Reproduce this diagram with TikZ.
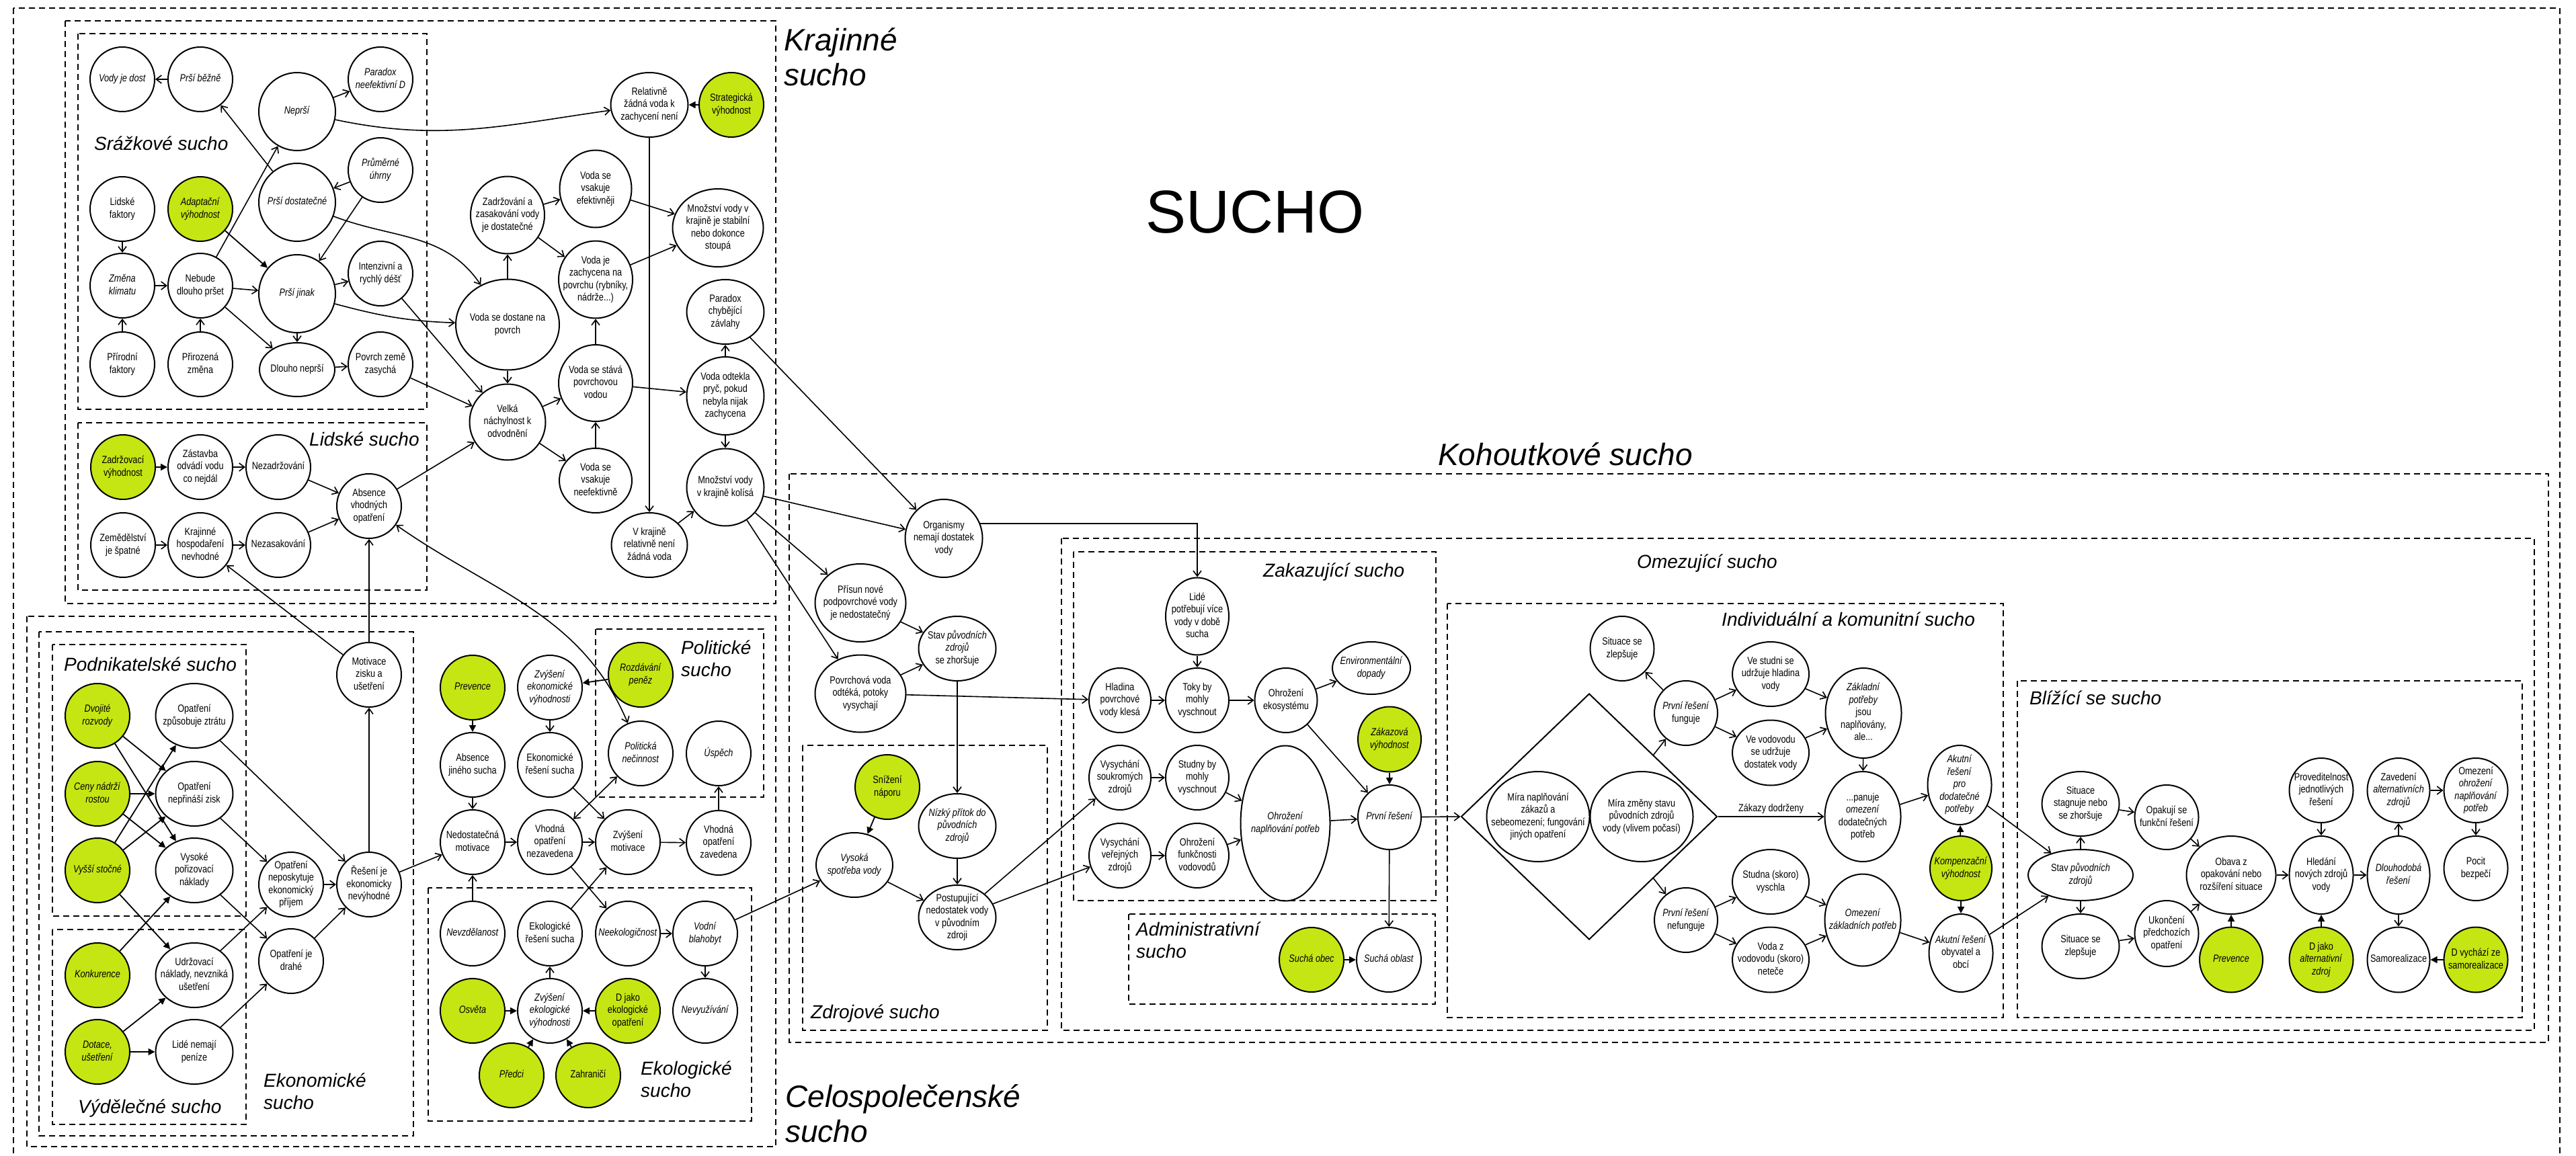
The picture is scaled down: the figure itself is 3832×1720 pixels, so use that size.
\documentclass[tikz,border=0pt]{standalone}
\usepackage{fontspec}
\setmainfont{Liberation Sans}
\newfontfamily\condf{Liberation Sans}[FakeStretch=0.82]
\usetikzlibrary{shapes.geometric,arrows.meta,calc}
\definecolor{lime}{RGB}{197,230,18}
\newcommand\nf{\condf\fontsize{15.5}{18.5}\selectfont}
\newcommand\itx[1]{\textit{#1}}
\newcommand\nt[1]{\smash{\makebox[0pt]{\raisebox{-0.25em}{\begin{tabular}{@{}c@{}}#1\end{tabular}}}}}
\begin{document}
\begin{tikzpicture}[x=1pt,y=-1pt,
  wn/.style={draw, ellipse, line width=2pt, inner sep=0pt, minimum width=96, minimum height=96, font=\nf},
  gn/.style={wn, fill=lime},
  sz/.style 2 args={minimum width=#1, minimum height=#2},
  frm/.style={draw, line width=1.8pt, dash pattern=on 9pt off 6pt},
  arr/.style={line width=1.6pt, -{Straight Barb[length=8pt,width=12pt]}},
  barr/.style={line width=1.6pt, {Straight Barb[length=8pt,width=12pt]}-{Straight Barb[length=8pt,width=12pt]}},
  farr/.style={line width=1.8pt, -{Triangle[length=10pt,width=10pt]}},
  ttl/.style={anchor=base west, inner sep=0pt, font=\fontsize{28}{33}\selectfont\itshape},
  bttl/.style={anchor=base west, inner sep=0pt, font=\fontsize{46}{52}\selectfont\itshape}]
\useasboundingbox (0,0) rectangle (3832,1720);
\fill[white] (0,0) rectangle (3832,1720);

% ---------- frames ----------
\draw[frm] (20,12) rectangle (3808,1745);
\draw[frm] (97,31) rectangle (1154,898);
\draw[frm] (116,50) rectangle (635,609);
\draw[frm] (116,629) rectangle (635,878);
\draw[frm] (40,917) rectangle (1154,1706);
\draw[frm] (58,940) rectangle (615,1690);
\draw[frm] (78,959) rectangle (366,1363);
\draw[frm] (78,1383) rectangle (366,1673);
\draw[frm] (886,936) rectangle (1136,1186);
\draw[frm] (637,1321) rectangle (1118,1668);
\draw[frm] (1174,705) rectangle (3791,1551);
\draw[frm] (1194,1109) rectangle (1558,1533);
\draw[frm] (1579,801) rectangle (3770,1533);
\draw[frm] (1597,821) rectangle (2136,1340);
\draw[frm] (1679,1360) rectangle (2135,1494);
\draw[frm] (2153,898) rectangle (2980,1514);
\draw[frm] (3001,1013) rectangle (3752,1514);

% ---------- titles ----------
\node[anchor=base, inner sep=0pt, font=\fontsize{90}{100}\selectfont] (tsucho) at (1867,346) {SUCHO};
\node[bttl] (tkraj) at (1166,76) {\begin{tabular}[t]{@{}l@{}}Krajinné\\sucho\end{tabular}};
\node[bttl] (tcelo) at (1168,1647) {\begin{tabular}[t]{@{}l@{}}Celospolečenské\\sucho\end{tabular}};
\node[bttl] (tkoh) at (2139,692) {Kohoutkové sucho};
\node[ttl] (tsraz) at (140,224) {Srážkové sucho};
\node[ttl] (tlid) at (460,663) {Lidské sucho};
\node[ttl] (tpod) at (95,998) {Podnikatelské sucho};
\node[ttl] (tvyd) at (116,1656) {Výdělečné sucho};
\node[ttl] (tekon) at (392,1617) {\begin{tabular}[t]{@{}l@{}}Ekonomické\\sucho\end{tabular}};
\node[ttl] (tpol) at (1013,973) {\begin{tabular}[t]{@{}l@{}}Politické\\sucho\end{tabular}};
\node[ttl] (tekol) at (953,1599) {\begin{tabular}[t]{@{}l@{}}Ekologické\\sucho\end{tabular}};
\node[ttl] (tzdr) at (1206,1515) {Zdrojové sucho};
\node[ttl] (tzak) at (1879,858) {Zakazující sucho};
\node[ttl] (tadm) at (1690,1392) {\begin{tabular}[t]{@{}l@{}}Administrativní\\sucho\end{tabular}};
\node[ttl] (tomez) at (2435,845) {Omezující sucho};
\node[ttl] (tind) at (2561,931) {Individuální a komunitní sucho};
\node[ttl] (tbliz) at (3019,1048) {Blížící se sucho};

% ---------- Srážkové sucho ----------
\node[wn] (vjd) at (182,118) {\nt{\itx{Vody je dost}}};
\node[wn] (pb) at (298,118) {\nt{\itx{Prší běžně}}};
\node[wn] (pnd) at (566,118) {\nt{\itx{Paradox}\\\itx{neefektivní D}}};
\node[wn,sz={114}{116}] (nep) at (442,166) {\nt{\itx{Neprší}}};
\node[wn] (pu) at (566,253) {\nt{\itx{Průměrné}\\\itx{úhrny}}};
\node[wn,sz={114}{116}] (pd) at (442,301) {\nt{\itx{Prší dostatečné}}};
\node[wn] (lf) at (182,311) {\nt{Lidské\\faktory}};
\node[gn] (av) at (298,311) {\nt{\itx{Adaptační}\\\itx{výhodnost}}};
\node[wn] (zk) at (182,425) {\nt{\itx{Změna}\\\itx{klimatu}}};
\node[wn] (ndp) at (298,425) {\nt{Nebude\\dlouho pršet}};
\node[wn,sz={114}{116}] (pj) at (442,437) {\nt{\itx{Prší jinak}}};
\node[wn] (ird) at (566,407) {\nt{Intenzivní a\\rychlý déšť}};
\node[wn] (pf) at (182,542) {\nt{Přírodní\\faktory}};
\node[wn] (pz) at (298,542) {\nt{Přirozená\\změna}};
\node[wn,sz={112}{80}] (dn) at (442,550) {\nt{Dlouho neprší}};
\node[wn] (pzz) at (566,542) {\nt{Povrch země\\zasychá}};

% ---------- Krajinné (middle) ----------
\node[wn,sz={110}{115}] (zaz) at (755,320) {\nt{Zadržování a\\zasakování vody\\je dostatečné}};
\node[wn,sz={107}{115}] (vve) at (886,281) {\nt{Voda se\\vsakuje\\efektivněji}};
\node[wn,sz={110}{115}] (vjz) at (886,416) {\nt{Voda je\\zachycena na\\povrchu (rybníky,\\nádrže...)}};
\node[wn,sz={154}{135}] (vdp) at (755,483) {\nt{Voda se dostane na\\povrch}};
\node[wn,sz={110}{114}] (vsp) at (886,570) {\nt{Voda se stává\\povrchovou\\vodou}};
\node[wn,sz={113}{113}] (vn) at (755,628) {\nt{Velká\\náchylnost k\\odvodnění}};
\node[wn,sz={108}{96}] (vvn) at (886,715) {\nt{Voda se\\vsakuje\\neefektivně}};
\node[wn,sz={115}{96}] (rzv) at (966,156) {\nt{Relativně\\žádná voda k\\zachycení není}};
\node[gn] (sv) at (1088,156) {\nt{Strategická\\výhodnost}};
\node[wn,sz={135}{116}] (mvs) at (1068,339) {\nt{Množství vody v\\krajině je stabilní\\nebo dokonce\\stoupá}};
\node[wn,sz={115}{96}] (pcz) at (1079,464) {\nt{Paradox\\chybějící\\závlahy}};
\node[wn,sz={115}{116}] (vop) at (1079,589) {\nt{Voda odtekla\\pryč, pokud\\nebyla nijak\\zachycena}};
\node[wn,sz={115}{115}] (mvk) at (1079,725) {\nt{Množství vody\\v krajině kolísá}};
\node[wn,sz={113}{96}] (vkr) at (966,811) {\nt{V krajině\\relativně není\\žádná voda}};

% ---------- Lidské sucho ----------
\node[gn] (zv) at (183,695) {\nt{Zadržovací\\výhodnost}};
\node[wn] (zas) at (298,695) {\nt{Zástavba\\odvádí vodu\\co nejdál}};
\node[wn] (nezd) at (414,695) {\nt{Nezadržování}};
\node[wn] (abs) at (549,753) {\nt{Absence\\vhodných\\opatření}};
\node[wn] (zem) at (183,811) {\nt{Zemědělství\\je špatné}};
\node[wn] (khn) at (298,811) {\nt{Krajinné\\hospodaření\\nevhodné}};
\node[wn] (nezs) at (414,811) {\nt{Nezasakování}};

% ---------- Ekonomické sucho ----------
\node[gn] (dr) at (145,1065) {\nt{\itx{Dvojité}\\\itx{rozvody}}};
\node[wn,sz={115}{96}] (ozz) at (289,1065) {\nt{Opatření\\způsobuje ztrátu}};
\node[gn] (cnr) at (145,1181) {\nt{\itx{Ceny nádrží}\\\itx{rostou}}};
\node[wn,sz={115}{96}] (onz) at (289,1181) {\nt{Opatření\\nepřináší zisk}};
\node[gn] (vs) at (145,1295) {\nt{\itx{Vyšší stočné}}};
\node[wn,sz={115}{96}] (vpn) at (289,1295) {\nt{Vysoké\\pořizovací\\náklady}};
\node[gn] (kon) at (145,1451) {\nt{\itx{Konkurence}}};
\node[wn,sz={115}{96}] (udr) at (289,1451) {\nt{Udržovací\\náklady, nevzniká\\ušetření}};
\node[gn] (dot) at (145,1565) {\nt{\itx{Dotace,}\\\itx{ušetření}}};
\node[wn,sz={115}{96}] (lnp) at (289,1565) {\nt{Lidé nemají\\peníze}};
\node[wn] (one) at (433,1316) {\nt{Opatření\\neposkytuje\\ekonomický\\příjem}};
\node[wn] (ojd) at (433,1430) {\nt{Opatření je\\drahé}};
\node[wn] (ren) at (549,1316) {\nt{Řešení je\\ekonomicky\\nevýhodné}};
\node[wn] (mot) at (549,1004) {\nt{Motivace\\zisku a\\ušetření}};

% ---------- Politické / Ekologické ----------
\node[gn] (prev1) at (703,1023) {\nt{\itx{Prevence}}};
\node[wn] (zev) at (818,1023) {\nt{\itx{Zvýšení}\\\itx{ekonomické}\\\itx{výhodnosti}}};
\node[gn] (rp) at (953,1004) {\nt{\itx{Rozdávání}\\\itx{peněz}}};
\node[wn] (ajs) at (703,1138) {\nt{Absence\\jiného sucha}};
\node[wn] (ers) at (818,1138) {\nt{Ekonomické\\řešení sucha}};
\node[wn] (pn) at (953,1121) {\nt{\itx{Politická}\\\itx{nečinnost}}};
\node[wn] (usp) at (1069,1121) {\nt{\itx{Úspěch}}};
\node[wn] (nm) at (703,1253) {\nt{Nedostatečná\\motivace}};
\node[wn] (von) at (818,1253) {\nt{Vhodná\\opatření\\nezavedena}};
\node[wn] (zm) at (934,1253) {\nt{Zvýšení\\motivace}};
\node[wn] (voz) at (1069,1254) {\nt{Vhodná\\opatření\\zavedena}};
\node[wn] (nevz) at (703,1389) {\nt{\itx{Nevzdělanost}}};
\node[wn] (eko) at (818,1389) {\nt{Ekologické\\řešení sucha}};
\node[wn] (neek) at (934,1389) {\nt{\itx{Neekologičnost}}};
\node[wn] (vb) at (1049,1389) {\nt{\itx{Vodní}\\\itx{blahobyt}}};
\node[gn] (osv) at (703,1504) {\nt{\itx{Osvěta}}};
\node[wn] (zekv) at (818,1504) {\nt{\itx{Zvýšení}\\\itx{ekologické}\\\itx{výhodnosti}}};
\node[gn] (djeo) at (934,1504) {\nt{D jako\\ekologické\\opatření}};
\node[wn] (nevy) at (1049,1504) {\nt{\itx{Nevyužívání}}};
\node[gn] (pred) at (761,1600) {\nt{\itx{Předci}}};
\node[gn] (zah) at (875,1600) {\nt{Zahraničí}};

% ---------- Kohoutkové / Zdrojové ----------
\node[wn,sz={115}{116}] (org) at (1404,801) {\nt{Organismy\\nemají dostatek\\vody}};
\node[wn,sz={135}{116}] (pnp) at (1280,897) {\nt{Přísun nové\\podpovrchové vody\\je nedostatečný}};
\node[wn,sz={115}{96}] (spz) at (1424,965) {\nt{Stav \itx{původních}\\\itx{zdrojů}\\se zhoršuje}};
\node[wn,sz={135}{115}] (pvo) at (1280,1032) {\nt{Povrchová voda\\odtéká, potoky\\vysychají}};
\node[gn] (sn) at (1320,1171) {\nt{Snížení\\náporu}};
\node[wn,sz={114}{96}] (vsv) at (1271,1287) {\nt{\itx{Vysoká}\\\itx{spotřeba vody}}};
\node[wn,sz={115}{96}] (npz) at (1424,1229) {\nt{\itx{Nízký přítok do}\\\itx{původních}\\\itx{zdrojů}}};
\node[wn,sz={115}{96}] (pnv) at (1424,1365) {\nt{Postupující\\nedostatek vody\\v původním\\zdroji}};

% ---------- Zakazující / Administrativní ----------
\node[wn,sz={94}{115}] (lpv) at (1781,917) {\nt{Lidé\\potřebují více\\vody v době\\sucha}};
\node[wn,sz={92}{96}] (hpv) at (1666,1042) {\nt{Hladina\\povrchové\\vody klesá}};
\node[wn,sz={94}{96}] (tok) at (1781,1042) {\nt{Toky by\\mohly\\vyschnout}};
\node[wn,sz={93}{96}] (oek) at (1913,1042) {\nt{Ohrožení\\ekosystému}};
\node[wn,sz={116}{78}] (env) at (2040,994) {\nt{\itx{Environmentální}\\\itx{dopady}}};
\node[gn,sz={94}{97}] (zakv) at (2067,1100) {\nt{\itx{Zákazová}\\\itx{výhodnost}}};
\node[wn,sz={92}{96}] (vsz) at (1666,1157) {\nt{Vysychání\\soukromých\\zdrojů}};
\node[wn,sz={94}{96}] (stu) at (1781,1157) {\nt{Studny by\\mohly\\vyschnout}};
\node[wn,sz={133}{231}] (onp) at (1912,1225) {\nt{\itx{Ohrožení}\\\itx{naplňování potřeb}}};
\node[wn,sz={92}{96}] (vvz) at (1666,1273) {\nt{Vysychání\\veřejných\\zdrojů}};
\node[wn,sz={94}{96}] (ofv) at (1781,1273) {\nt{Ohrožení\\funkčnosti\\vodovodů}};
\node[wn,sz={94}{96}] (pr) at (2067,1216) {\nt{\itx{První řešení}}};
\node[gn] (sob) at (1951,1428) {\nt{\itx{Suchá obec}}};
\node[wn] (sobl) at (2066,1428) {\nt{\itx{Suchá oblast}}};

% ---------- Omezující / Individuální ----------
\node[draw, diamond, line width=2pt, inner sep=0pt, minimum width=381, minimum height=366] (dia) at (2364,1215) {};
\node[wn,sz={153}{134}] (mn) at (2288,1215) {\nt{Míra naplňování\\zákazů a\\sebeomezení; fungování\\jiných opatření}};
\node[wn,sz={153}{134}] (mz) at (2442,1215) {\nt{Míra změny stavu\\původních zdrojů\\vody (vlivem počasí)}};
\node[wn,sz={95}{96}] (szl1) at (2413,965) {\nt{Situace se\\zlepšuje}};
\node[wn,sz={94}{96}] (prf) at (2508,1061) {\nt{\itx{První řešení}\\funguje}};
\node[wn,sz={114}{96}] (vst) at (2634,1003) {\nt{Ve studni se\\udržuje hladina\\vody}};
\node[wn,sz={114}{97}] (vvd) at (2634,1120) {\nt{Ve vodovodu\\se udržuje\\dostatek vody}};
\node[wn,sz={113}{134}] (zpn) at (2772,1061) {\nt{\itx{Základní}\\\itx{potřeby}\\jsou\\naplňovány,\\ale...}};
\node[wn,sz={113}{134}] (pod) at (2771,1215) {\nt{...panuje\\\itx{omezení}\\dodatečných\\potřeb}};
\node[wn,sz={94}{96}] (prn) at (2508,1369) {\nt{\itx{První řešení}\\nefunguje}};
\node[wn,sz={114}{96}] (svy) at (2634,1312) {\nt{Studna (skoro)\\vyschla}};
\node[wn,sz={114}{97}] (vzv) at (2634,1428) {\nt{Voda z\\vodovodu (skoro)\\neteče}};
\node[wn,sz={113}{137}] (ozp) at (2771,1369) {\nt{\itx{Omezení}\\\itx{základních potřeb}}};
\node[wn,sz={95}{118}] (apd) at (2915,1168) {\nt{\itx{Akutní}\\\itx{řešení}\\\itx{pro}\\\itx{dodatečné}\\\itx{potřeby}}};
\node[gn,sz={92}{96}] (kv) at (2917,1292) {\nt{\itx{Kompenzační}\\\itx{výhodnost}}};
\node[wn,sz={95}{116}] (aoo) at (2917,1418) {\nt{\itx{Akutní řešení}\\obyvatel a\\obcí}};

% ---------- Blížící se sucho ----------
\node[wn,sz={115}{96}] (ssz) at (3095,1196) {\nt{Situace\\stagnuje nebo\\se zhoršuje}};
\node[wn,sz={156}{76}] (spz2) at (3095,1302) {\nt{Stav \itx{původních}\\\itx{zdrojů}}};
\node[wn,sz={115}{96}] (szl2) at (3095,1408) {\nt{Situace se\\zlepšuje}};
\node[wn,sz={95}{96}] (ofr) at (3223,1216) {\nt{Opakují se\\funkční řešení}};
\node[wn,sz={95}{98}] (upo) at (3223,1389) {\nt{Ukončení\\předchozích\\opatření}};
\node[wn,sz={133}{116}] (oba) at (3319,1302) {\nt{Obava z\\opakování nebo\\rozšíření situace}};
\node[gn,sz={94}{97}] (prev2) at (3319,1428) {\nt{\itx{Prevence}}};
\node[wn,sz={95}{96}] (pjr) at (3453,1176) {\nt{Proveditelnost\\jednotlivých\\řešení}};
\node[wn,sz={95}{116}] (hnz) at (3453,1302) {\nt{Hledání\\nových zdrojů\\vody}};
\node[gn,sz={95}{97}] (djaz) at (3453,1428) {\nt{D jako\\\itx{alternativní}\\\itx{zdroj}}};
\node[wn,sz={93}{96}] (zaz2) at (3568,1176) {\nt{Zavedení\\\itx{alternativních}\\\itx{zdrojů}}};
\node[wn,sz={93}{116}] (dlr) at (3568,1302) {\nt{\itx{Dlouhodobá}\\\itx{řešení}}};
\node[wn,sz={93}{97}] (sam) at (3568,1428) {\nt{Samorealizace}};
\node[wn,sz={95}{96}] (ooh) at (3683,1176) {\nt{Omezení\\\itx{ohrožení}\\\itx{naplňování}\\\itx{potřeb}}};
\node[wn,sz={95}{96}] (pbz) at (3683,1292) {\nt{Pocit\\bezpečí}};
\node[gn,sz={95}{97}] (dvs) at (3683,1428) {\nt{D vychází ze\\samorealizace}};

% ---------- connectors: Srážkové / Krajinné ----------
\draw[arr] (pb) -- (vjd);
\draw[arr] (pd) -- (pb);
\draw[arr] (ndp) -- (nep);
\draw[arr] (nep) -- (pnd);
\draw[arr] (nep) to[out=-12,in=188] (rzv);
\draw[arr] (pu) -- (pd);
\draw[arr] (pu) -- (pj);
\draw[farr] (av) -- (pj);
\draw[arr] (lf) -- (zk);
\draw[arr] (zk) -- (ndp);
\draw[arr] (pf) -- (zk);
\draw[arr] (pz) -- (ndp);
\draw[arr] (ndp) -- (pj);
\draw[arr] (ndp) -- (dn);
\draw[arr] (pj) -- (ird);
\draw[arr] (pj) -- (dn);
\draw[arr] (pj) to[out=-15,in=178] (vdp);
\draw[arr] (dn) -- (pzz);
\draw[arr] (pd) to[out=-21,in=124] (vdp);
\draw[arr] (ird) -- (vn);
\draw[arr] (pzz) -- (vn);
\draw[arr] (vdp) -- (zaz);
\draw[arr] (vdp) -- (vn);
\draw[arr] (zaz) -- (vve);
\draw[arr] (zaz) -- (vjz);
\draw[arr] (vve) -- (mvs);
\draw[arr] (vjz) -- (mvs);
\draw[arr] (vn) -- (vsp);
\draw[arr] (vn) -- (vvn);
\draw[arr] (vvn) -- (vsp);
\draw[arr] (vsp) -- (vjz);
\draw[arr] (vsp) -- (vop);
\draw[arr] (vop) -- (pcz);
\draw[arr] (vop) -- (mvk);
\draw[arr] (rzv) -- (vkr);
\draw[farr] (sv) -- (rzv);
\draw[arr] (vkr) -- (mvk);
\draw[arr] (pcz) -- (org);
\draw[arr] (mvk) -- (org);
\draw[arr] (mvk) -- (pnp);
\draw[arr] (mvk) -- (pvo);
\draw[arr] (abs) -- (vn);

% ---------- Lidské ----------
\draw[farr] (zv) -- (zas);
\draw[arr] (zas) -- (nezd);
\draw[arr] (nezd) -- (abs);
\draw[arr] (zem) -- (khn);
\draw[arr] (khn) -- (nezs);
\draw[arr] (nezs) -- (abs);
\draw[arr] (mot) -- (abs);
\draw[arr] (mot) -- (khn);
\draw[barr] (abs) to[out=-35,in=113] (pn);

% ---------- Ekonomické ----------
\draw[farr] (dr) -- (onz);
\draw[farr] (dr) -- (vpn);
\draw[farr] (cnr) -- (onz);
\draw[farr] (cnr) -- (vpn);
\draw[farr] (vs) -- (ozz);
\draw[farr] (vs) -- (onz);
\draw[farr] (vs) -- (udr);
\draw[farr] (kon) -- (vpn);
\draw[farr] (dot) -- (udr);
\draw[farr] (dot) -- (lnp);
\draw[arr] (ozz) -- (ren);
\draw[arr] (onz) -- (one);
\draw[arr] (vpn) -- (ojd);
\draw[arr] (udr) -- (one);
\draw[arr] (lnp) -- (ojd);
\draw[arr] (one) -- (ren);
\draw[arr] (ojd) -- (ren);
\draw[arr] (ren) -- (mot);
\draw[arr] (ren) -- (nm);

% ---------- Politické / Ekologické ----------
\draw[farr] (rp) -- (zev);
\draw[farr] (prev1) -- (ajs);
\draw[arr] (zev) -- (ers);
\draw[arr] (ajs) -- (nm);
\draw[arr] (nm) -- (von);
\draw[arr] (von) -- (zm);
\draw[arr] (zm) -- (voz);
\draw[arr] (voz) -- (usp);
\draw[arr] (ers) -- (zm);
\draw[arr] (von) -- (neek);
\draw[arr] (eko) -- (zm);
\draw[barr] (pn) -- (von);
\draw[arr] (nevz) -- (nm);
\draw[arr] (zekv) -- (eko);
\draw[farr] (osv) -- (zekv);
\draw[farr] (djeo) -- (zekv);
\draw[farr] (pred) -- (zekv);
\draw[farr] (zah) -- (zekv);
\draw[arr] (neek) -- (vb);
\draw[arr] (vb) -- (nevy);
\draw[arr] (vb) -- (vsv);

% ---------- Zdrojové / Zakazující ----------
\draw[arr] (pnp) -- (spz);
\draw[arr] (pvo) -- (spz);
\draw[arr] (pvo) -- (hpv);
\draw[arr] (org.22) -| (lpv);
\draw[arr] (spz) -- (npz);
\draw[arr] (npz) -- (pnv);
\draw[farr] (sn) -- (vsv);
\draw[arr] (vsv) -- (pnv);
\draw[arr] (pnv) -- (vsz);
\draw[arr] (pnv) -- (vvz);
\draw[arr] (lpv) -- (tok);
\draw[arr] (hpv) -- (tok);
\draw[arr] (tok) -- (oek);
\draw[arr] (oek) -- (env);
\draw[arr] (oek) -- (pr);
\draw[arr] (vsz) -- (stu);
\draw[arr] (stu) -- (onp);
\draw[arr] (vvz) -- (ofv);
\draw[arr] (ofv) -- (onp);
\draw[arr] (onp) -- (pr);
\draw[farr] (zakv) -- (pr);
\draw[arr] (pr) -- (sobl);
\draw[farr] (sob) -- (sobl);
\draw[arr] (pr) -- (dia.west);

% ---------- Omezující ----------
\coordinate (dne) at ($(dia.north)!0.5!(dia.east)$);
\coordinate (dse) at ($(dia.east)!0.5!(dia.south)$);
\draw[arr] (dne) -- (prf);
\draw[arr] (dse) -- (prn);
\draw[arr] (dia.east) -- node[above=3pt, inner sep=0pt, font=\nf] (zd) {Zákazy dodrženy} (pod);
\draw[arr] (prf) -- (szl1);
\draw[arr] (prf) -- (vst);
\draw[arr] (prf) -- (vvd);
\draw[arr] (vst) -- (zpn);
\draw[arr] (vvd) -- (zpn);
\draw[arr] (zpn) -- (pod);
\draw[arr] (prn) -- (svy);
\draw[arr] (prn) -- (vzv);
\draw[arr] (svy) -- (ozp);
\draw[arr] (vzv) -- (ozp);
\draw[arr] (pod) -- (apd);
\draw[arr] (ozp) -- (aoo);
\draw[farr] (kv) -- (apd);
\draw[farr] (kv) -- (aoo);
\draw[arr] (apd) -- (spz2);
\draw[arr] (aoo) -- (spz2);

% ---------- Blížící ----------
\draw[arr] (spz2) -- (ssz);
\draw[arr] (spz2) -- (szl2);
\draw[arr] (ssz) -- (ofr);
\draw[arr] (szl2) -- (upo);
\draw[arr] (ofr) -- (oba);
\draw[arr] (upo) -- (oba);
\draw[farr] (prev2) -- (oba);
\draw[arr] (oba) -- (hnz);
\draw[arr] (pjr) -- (hnz);
\draw[farr] (djaz) -- (hnz);
\draw[arr] (hnz) -- (dlr);
\draw[arr] (dlr) -- (zaz2);
\draw[arr] (dlr) -- (sam);
\draw[arr] (zaz2) -- (ooh);
\draw[arr] (ooh) -- (pbz);
\draw[farr] (dvs) -- (sam);
\end{tikzpicture}
\end{document}
